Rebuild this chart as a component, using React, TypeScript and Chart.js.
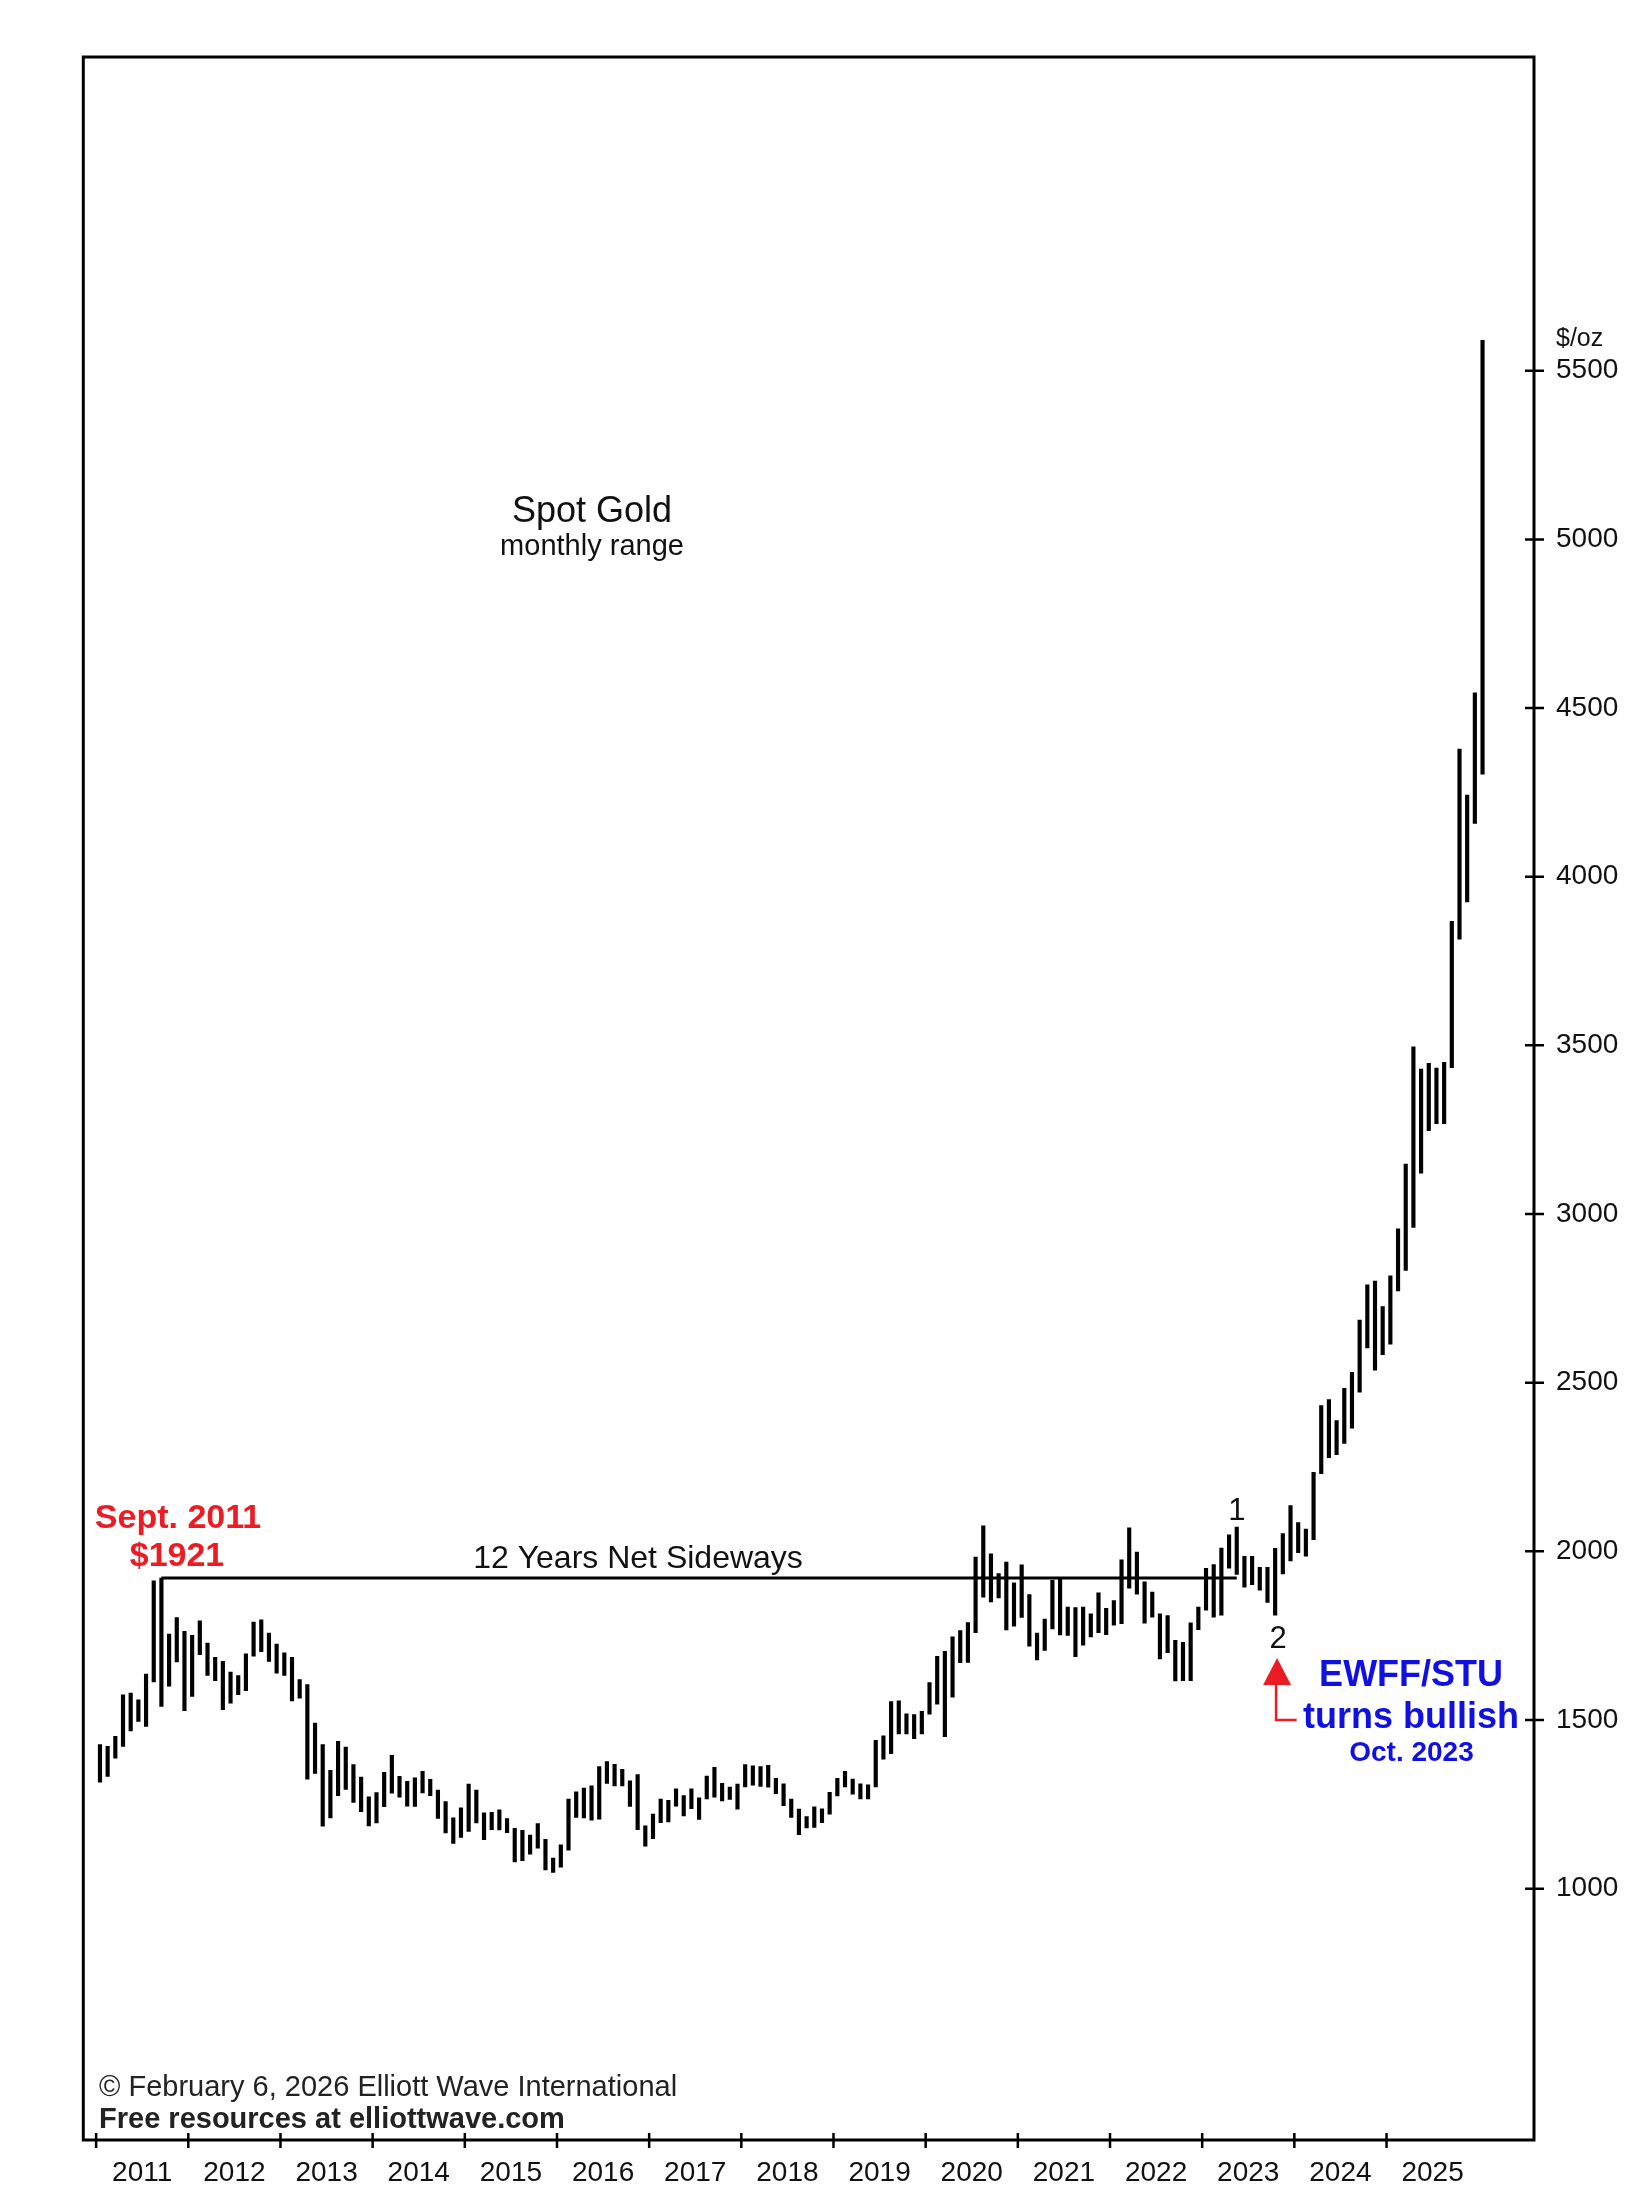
import React, { useEffect, useRef } from "react";
import { Chart, registerables } from "chart.js";

Chart.register(...registerables);

const FONT = '"Liberation Sans", Arial, Helvetica, sans-serif';

// ---- data (monthly high / low, spot gold $/oz), Jan 2011 .. Jan 2026 ----
const H2011 = [1427, 1422, 1452, 1575, 1580, 1560, 1636, 1913, 1921, 1755, 1804, 1763];
const L2011 = [1316, 1333, 1387, 1422, 1468, 1496, 1481, 1613, 1540, 1600, 1672, 1528];
const H2012 = [1751, 1794, 1728, 1686, 1674, 1642, 1632, 1696, 1790, 1797, 1758, 1725];
const L2012 = [1570, 1694, 1632, 1617, 1531, 1550, 1575, 1587, 1689, 1703, 1674, 1639];
const H2013 = [1699, 1686, 1620, 1605, 1491, 1427, 1351, 1437, 1420, 1368, 1331, 1272];
const L2013 = [1632, 1557, 1565, 1325, 1342, 1185, 1210, 1276, 1294, 1256, 1228, 1186];
const H2014 = [1285, 1345, 1395, 1333, 1318, 1329, 1348, 1324, 1292, 1258, 1210, 1240];
const L2014 = [1195, 1243, 1283, 1271, 1245, 1244, 1284, 1276, 1208, 1165, 1134, 1152];
const H2015 = [1310, 1292, 1225, 1226, 1234, 1208, 1179, 1173, 1159, 1193, 1146, 1091];
const L2015 = [1170, 1195, 1145, 1175, 1174, 1166, 1079, 1083, 1102, 1120, 1056, 1048];
const H2016 = [1130, 1266, 1287, 1298, 1305, 1362, 1377, 1369, 1354, 1320, 1338, 1186];
const L2016 = [1064, 1114, 1211, 1210, 1203, 1206, 1312, 1305, 1305, 1244, 1175, 1126];
const H2017 = [1221, 1266, 1262, 1296, 1276, 1296, 1269, 1334, 1360, 1312, 1301, 1310];
const L2017 = [1148, 1196, 1198, 1245, 1216, 1237, 1205, 1266, 1271, 1260, 1265, 1236];
const H2018 = [1368, 1364, 1362, 1366, 1327, 1311, 1266, 1236, 1214, 1243, 1237, 1286];
const L2018 = [1302, 1307, 1303, 1301, 1282, 1246, 1211, 1160, 1180, 1182, 1196, 1221];
const H2019 = [1327, 1348, 1325, 1311, 1308, 1440, 1453, 1555, 1557, 1518, 1516, 1526];
const L2019 = [1275, 1302, 1280, 1266, 1266, 1302, 1384, 1400, 1459, 1459, 1445, 1459];
const H2020 = [1611, 1689, 1704, 1747, 1765, 1789, 1983, 2076, 1993, 1934, 1968, 1907];
const L2020 = [1517, 1547, 1451, 1568, 1670, 1671, 1759, 1864, 1850, 1862, 1767, 1778];
const H2021 = [1960, 1872, 1758, 1799, 1914, 1918, 1835, 1833, 1835, 1815, 1877, 1831];
const L2021 = [1804, 1719, 1678, 1706, 1770, 1752, 1751, 1688, 1722, 1746, 1759, 1753];
const H2022 = [1854, 1975, 2070, 1998, 1910, 1879, 1815, 1810, 1736, 1730, 1788, 1835];
const L2022 = [1781, 1786, 1891, 1873, 1787, 1805, 1681, 1700, 1616, 1617, 1617, 1768];
const H2023 = [1950, 1961, 2010, 2049, 2072, 1985, 1985, 1953, 1953, 2009, 2053, 2136];
const L2023 = [1826, 1805, 1811, 1950, 1932, 1894, 1901, 1885, 1849, 1811, 1933, 1972];
const H2024 = [2085, 2066, 2234, 2432, 2450, 2388, 2483, 2531, 2686, 2790, 2801, 2726];
const L2024 = [1996, 1986, 2035, 2230, 2278, 2287, 2320, 2365, 2472, 2603, 2537, 2583];
const H2025 = [2817, 2956, 3148, 3496, 3430, 3447, 3433, 3450, 3868, 4378, 4242, 4545];
const L2025 = [2614, 2772, 2833, 2960, 3121, 3247, 3268, 3268, 3434, 3815, 3925, 4158];
const H2026 = [5590];
const L2026 = [4304];

const YEAR_LABELS = [
  "2011", "2012", "2013", "2014", "2015", "2016", "2017", "2018",
  "2019", "2020", "2021", "2022", "2023", "2024", "2025",
];
const Y_TICKS = [1000, 1500, 2000, 2500, 3000, 3500, 4000, 4500, 5000, 5500];

// sideways line: from the Sept 2011 peak (month 8) to the wave-1 high (month 148)
const PEAK_MONTH = 8;
const WAVE1_MONTH = 148;
const PEAK_VALUE = 1921;

// ---- layout / style (not data) ----
const X_MIN = -1.67;
const X_MAX = 187.2;
const Y_MIN = 255;
const Y_MAX = 6430;

const RED = "#ec1c24";
const BLUE = "#1010e0";
const INK = "#111";

type Note = { text: string; x: number; y: number; size: number; bold?: boolean; color: string; align: CanvasTextAlign };

const NOTES: Note[] = [
  { text: "Spot Gold", x: 64.56, y: 5051, size: 36, color: INK, align: "center" },
  { text: "monthly range", x: 64.56, y: 4954, size: 29, color: INK, align: "center" },
  { text: "Sept. 2011", x: 10.66, y: 2069, size: 34, bold: true, color: RED, align: "center" },
  { text: "$1921", x: 10.53, y: 1956, size: 34, bold: true, color: RED, align: "center" },
  { text: "12 Years Net Sideways", x: 70.55, y: 1950, size: 32, color: INK, align: "center" },
  { text: "1", x: 148.5, y: 2093, size: 31, color: INK, align: "center" },
  { text: "2", x: 153.9, y: 1713, size: 31, color: INK, align: "center" },
  { text: "EWFF/STU", x: 171.2, y: 1601, size: 36, bold: true, color: BLUE, align: "center" },
  { text: "turns bullish", x: 171.2, y: 1476, size: 36, bold: true, color: BLUE, align: "center" },
  { text: "Oct. 2023", x: 171.25, y: 1378, size: 28, bold: true, color: BLUE, align: "center" },
  { text: "\u00A9 February 6, 2026 Elliott Wave International", x: 0.38, y: 386, size: 29, color: "#222", align: "left" },
  { text: "Free resources at elliottwave.com", x: 0.38, y: 291, size: 29, bold: true, color: "#222", align: "left" },
];

const UNIT_LABEL_Y = 5573;
const ARROW = { x: 153.75, tipY: 1684, baseY: 1604, cornerY: 1500, endX: 156.3 };

const decorPlugin = {
  id: "ewiDecor",
  afterDraw(chart: any) {
    const { ctx, chartArea: a } = chart;
    const xs = chart.scales.x;
    const ys = chart.scales.y;
    ctx.save();
    // frame
    ctx.strokeStyle = "#000";
    ctx.lineWidth = 3;
    ctx.strokeRect(a.left, a.top, a.right - a.left, a.bottom - a.top);
    // year ticks
    ctx.lineWidth = 2.5;
    ctx.beginPath();
    YEAR_LABELS.forEach((_, k) => {
      const px = xs.getPixelForValue(k * 12);
      ctx.moveTo(px, a.bottom - 7);
      ctx.lineTo(px, a.bottom + 8);
    });
    // price ticks
    Y_TICKS.forEach((v) => {
      const py = ys.getPixelForValue(v);
      ctx.moveTo(a.right - 9, py);
      ctx.lineTo(a.right + 10, py);
    });
    ctx.stroke();

    // unit label
    ctx.fillStyle = INK;
    ctx.font = `25px ${FONT}`;
    ctx.textAlign = "left";
    ctx.textBaseline = "alphabetic";
    ctx.fillText("$/oz", a.right + 22, ys.getPixelForValue(UNIT_LABEL_Y));

    // notes
    NOTES.forEach((n) => {
      ctx.font = `${n.bold ? "bold " : ""}${n.size}px ${FONT}`;
      ctx.fillStyle = n.color;
      ctx.textAlign = n.align;
      ctx.fillText(n.text, xs.getPixelForValue(n.x), ys.getPixelForValue(n.y));
    });

    // red arrow
    const ax = xs.getPixelForValue(ARROW.x);
    const tip = ys.getPixelForValue(ARROW.tipY);
    const base = ys.getPixelForValue(ARROW.baseY);
    const corner = ys.getPixelForValue(ARROW.cornerY);
    const ex = xs.getPixelForValue(ARROW.endX);
    ctx.fillStyle = RED;
    ctx.beginPath();
    ctx.moveTo(ax, tip);
    ctx.lineTo(ax - 14, base);
    ctx.lineTo(ax + 14, base);
    ctx.closePath();
    ctx.fill();
    ctx.strokeStyle = RED;
    ctx.lineWidth = 2.5;
    ctx.beginPath();
    ctx.moveTo(ax - 1, base - 1);
    ctx.lineTo(ax - 1, corner);
    ctx.lineTo(ex, corner);
    ctx.stroke();
    ctx.restore();
  },
};

export default function App() {
  const ref = useRef<HTMLCanvasElement>(null);

  useEffect(() => {
    const canvas = ref.current;
    if (!canvas) return;
    const highs = [
      ...H2011, ...H2012, ...H2013, ...H2014, ...H2015, ...H2016, ...H2017, ...H2018,
      ...H2019, ...H2020, ...H2021, ...H2022, ...H2023, ...H2024, ...H2025, ...H2026,
    ];
    const lows = [
      ...L2011, ...L2012, ...L2013, ...L2014, ...L2015, ...L2016, ...L2017, ...L2018,
      ...L2019, ...L2020, ...L2021, ...L2022, ...L2023, ...L2024, ...L2025, ...L2026,
    ];
    const bars = highs.map((h, i) => ({ x: i + 0.5, y: [lows[i], h] }));

    const chart = new Chart(canvas, {
      type: "bar",
      data: {
        datasets: [
          {
            type: "line",
            data: [
              { x: PEAK_MONTH + 0.5, y: PEAK_VALUE },
              { x: WAVE1_MONTH + 0.5, y: PEAK_VALUE },
            ],
            borderColor: "#000",
            borderWidth: 3,
            pointRadius: 0,
            fill: false,
          } as any,
          {
            type: "bar",
            data: bars as any,
            backgroundColor: "#000",
            borderWidth: 0,
            barThickness: 3.5,
            grouped: false,
          } as any,
        ],
      },
      options: {
        animation: false,
        responsive: false,
        maintainAspectRatio: false,
        devicePixelRatio: 1,
        layout: { padding: { left: 83.3, top: 57, right: 0, bottom: 0 } },
        plugins: { legend: { display: false }, tooltip: { enabled: false } },
        scales: {
          x: {
            type: "linear",
            position: "bottom",
            min: X_MIN,
            max: X_MAX,
            offset: false,
            grid: { display: false, drawTicks: false },
            border: { display: false },
            afterBuildTicks: (s: any) => {
              s.ticks = YEAR_LABELS.map((_, k) => ({ value: k * 12 + 6 }));
            },
            afterFit: (s: any) => {
              s.height = 71;
            },
            ticks: {
              autoSkip: false,
              maxRotation: 0,
              minRotation: 0,
              padding: 16,
              color: INK,
              font: { family: FONT, size: 28 },
              callback: (v: any) => YEAR_LABELS[Math.round((Number(v) - 6) / 12)] ?? "",
            },
          },
          y: {
            type: "linear",
            position: "right",
            min: Y_MIN,
            max: Y_MAX,
            grid: { display: false, drawTicks: false },
            border: { display: false },
            afterBuildTicks: (s: any) => {
              s.ticks = Y_TICKS.map((v) => ({ value: v }));
            },
            afterFit: (s: any) => {
              s.width = 116;
            },
            ticks: {
              padding: 22,
              color: INK,
              font: { family: FONT, size: 28 },
              callback: (v: any) => String(v),
            },
          },
        },
      } as any,
      plugins: [decorPlugin],
    });
    return () => chart.destroy();
  }, []);

  return (
    <div style={{ position: "absolute", left: 0, top: 0, width: 1650, height: 2211, background: "#fff" }}>
      <canvas ref={ref} width={1650} height={2211} style={{ width: 1650, height: 2211, display: "block" }} />
    </div>
  );
}
